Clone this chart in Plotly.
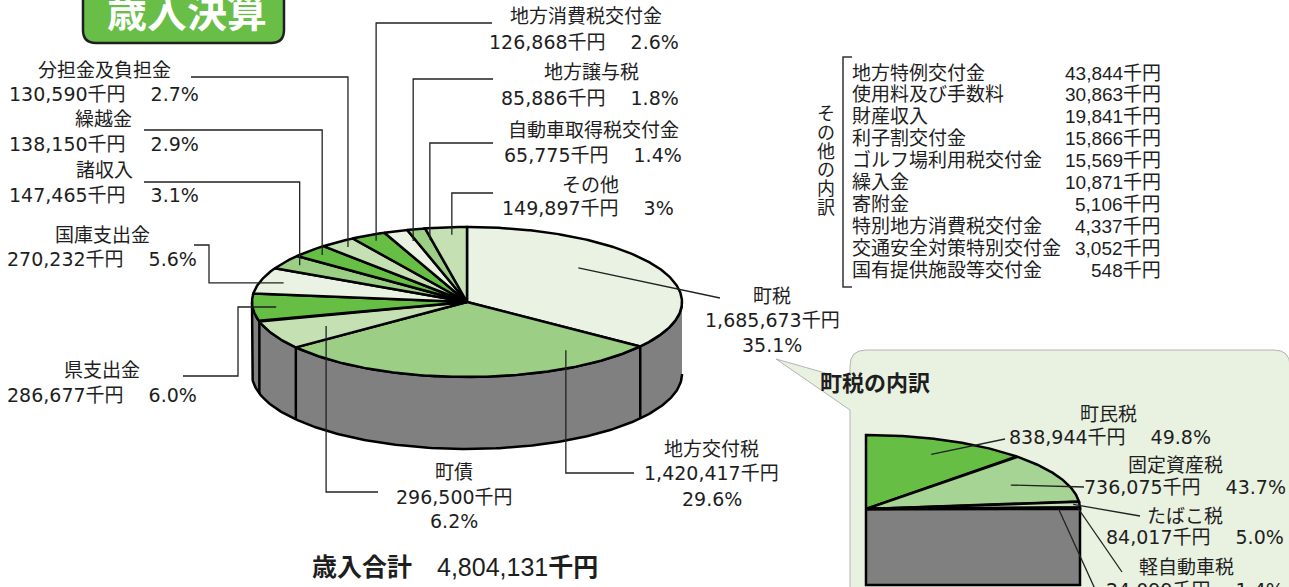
import numpy as np
import plotly.graph_objects as go

# ---------------- data ----------------
revenue_names = ["町税", "地方交付税", "町債", "県支出金", "国庫支出金", "諸収入", "繰越金",
                 "分担金及負担金", "地方消費税交付金", "地方譲与税", "自動車取得税交付金", "その他"]
revenue_values = [1685673, 1420417, 296500, 286677, 270232, 147465, 138150,
                  130590, 126868, 85886, 65775, 149897]
revenue_pct_labels = ["35.1%", "29.6%", "6.2%", "6.0%", "5.6%", "3.1%", "2.9%",
                      "2.7%", "2.6%", "1.8%", "1.4%", "3%"]
revenue_total = 4804131

town_tax_names = ["町民税", "固定資産税", "たばこ税", "軽自動車税"]
town_tax_values = [838944, 736075, 84017, 24099]
town_tax_pct_labels = ["49.8%", "43.7%", "5.0%", "1.4%"]
town_tax_total = 1685673

other_names = ["地方特例交付金", "使用料及び手数料", "財産収入", "利子割交付金", "ゴルフ場利用税交付金",
               "繰入金", "寄附金", "特別地方消費税交付金", "交通安全対策特別交付金", "国有提供施設等交付金"]
other_values = [43844, 30863, 19841, 15866, 15569, 10871, 5106, 4337, 3052, 548]

# ---------------- styles / layout ----------------
W, M, L, B = "#EAF3E3", "#9CCF85", "#C5E1B4", "#67BE45"
main_colors = [W, M, L, B, W, M, B, L, B, W, M, L]
sub_colors = [B, "#A6D494", "#C6E2B5", "#D6EACA", "#E6F2DE"]
FONT = "Liberation Sans, Noto Sans CJK JP, sans-serif"
LFONT = "DejaVu Sans, Noto Sans CJK JP, sans-serif"
TXT = "#1e1e1e"
FS = 19

CX, CY, RX, RY, DEPTH = 467, 302, 215, 75, 72          # main pie geometry
SCX, SCY, SRX, SRY, SDEPTH = 866, 509, 214, 74, 76     # sub pie geometry

fig = go.Figure()


def ell(cx, cy, rx, ry, theta_deg, r=1.0):
    t = np.radians(theta_deg)
    return cx + rx * r * np.sin(t), cy - ry * r * np.cos(t)


def poly(xs, ys, fill, lw=2.5, lc="black"):
    fig.add_trace(go.Scatter(x=list(xs), y=list(ys), mode="lines", fill="toself",
                             fillcolor=fill, line=dict(color=lc, width=lw),
                             hoverinfo="skip"))


def line(xs, ys, lw=1.3, lc="#222222"):
    fig.add_trace(go.Scatter(x=list(xs), y=list(ys), mode="lines",
                             line=dict(color=lc, width=lw), hoverinfo="skip"))


def text(x, y, s, size=FS, anchor="center", bold=False, color=TXT, family=LFONT, yanchor="middle"):
    if bold:
        s = "<b>" + s + "</b>"
    fig.add_annotation(x=x, y=y, xref="x", yref="y", text=s, showarrow=False,
                       xanchor=anchor, yanchor=yanchor,
                       font=dict(family=family, size=size, color=color))


# ---------------- background shapes ----------------
# title box (top is clipped by the page)
fig.add_shape(type="path", xref="x", yref="y", layer="below",
              path="M 83,-20 L 83,30 Q 83,43 96,43 L 271,43 Q 284,43 284,30 L 284,-20 Z",
              fillcolor="#69BE47", line=dict(color="#1f1f1f", width=2.5))
# callout box for 町税の内訳
fig.add_shape(type="path", xref="x", yref="y", layer="below",
              path=("M 866,350 L 1274,350 Q 1290,350 1290,366 L 1290,620 L 850,620 "
                    "L 850,410 L 776,359 L 850,380 L 850,366 Q 850,350 866,350 Z"),
              fillcolor="#E9F1E1", line=dict(color="#B4B4B4", width=1))

# ---------------- main 3D pie ----------------
vals = np.array(revenue_values, dtype=float)
cum = np.concatenate([[0], np.cumsum(vals)]) / vals.sum() * 360.0
starts, ends = cum[:-1], cum[1:]

# side wall (front half)
th = np.linspace(90, 270, 200)
tx, ty = ell(CX, CY, RX, RY, th)
poly(np.concatenate([tx, tx[::-1]]), np.concatenate([ty, ty[::-1] + DEPTH]), "#808080")
for b in cum[1:-1]:
    if 90 < b < 270:
        bx, by = ell(CX, CY, RX, RY, b)
        line([bx, bx], [by, by + DEPTH], lw=2.5, lc="black")

# top face
for i in range(len(vals)):
    th = np.linspace(starts[i], ends[i], max(4, int((ends[i] - starts[i]) * 2)))
    ax_, ay_ = ell(CX, CY, RX, RY, th)
    poly(np.concatenate([[CX], ax_, [CX]]), np.concatenate([[CY], ay_, [CY]]), main_colors[i])

# labels: (anchor fraction within slice, anchor radius, leader waypoints, text lines)
main_label_layout = [
    dict(f=0.385, r=0.69, path=[("pt", 720, 298)], lines=[(772, 296), (772, 320), (772, 345)], split=3),
    dict(f=0.17, r=0.79, path=[("v", 473), ("pt", 634, 473)], lines=[(711, 449), (711, 473), (712, 499)], split=3),
    dict(f=0.5, r=0.73, path=[("v", 492), ("pt", 378, 492)], lines=[(454, 472), (454, 497), (454, 521)], split=3),
    dict(f=0.5, r=0.89, path=[("h", 238), ("pt", 238, 376), ("pt", 183, 376)], lines=[(102, 370), (102, 395)], split=2),
    dict(f=0.5, r=0.89, path=[("h", 209), ("pt", 209, 245), ("pt", 194, 245)], lines=[(102, 235), (102, 259)], split=2),
    dict(f=0.5, r=0.92, path=[("v", 182), ("pt", 144, 182)], lines=[(104, 170), (104, 195)], split=2),
    dict(f=0.5, r=0.92, path=[("v", 130), ("pt", 144, 130)], lines=[(103, 119), (104, 144)], split=2),
    dict(f=0.5, r=0.92, path=[("v", 77), ("pt", 191, 77)], lines=[(104, 70), (104, 94)], split=2),
    dict(f=0.5, r=0.92, path=[("v", 23), ("pt", 492, 23)], lines=[(586, 16), (584, 42)], split=2),
    dict(f=0.85, r=0.85, path=[("v", 79), ("pt", 493, 79)], lines=[(591, 72), (590, 98)], split=2),
    dict(f=0.9, r=0.85, path=[("v", 143), ("pt", 493, 143)], lines=[(593, 130), (593, 155)], split=2),
    dict(f=0.6, r=0.9, path=[("v", 193), ("pt", 493, 193)], lines=[(590, 185), (588, 208)], split=2),
]

for i, lay in enumerate(main_label_layout):
    th = starts[i] + lay["f"] * (ends[i] - starts[i])
    ax_, ay_ = ell(CX, CY, RX, RY, th, lay["r"])
    xs, ys = [ax_], [ay_]
    for seg in lay["path"]:
        if seg[0] == "v":
            xs.append(ax_); ys.append(seg[1])
        elif seg[0] == "h":
            xs.append(seg[1]); ys.append(ay_)
        else:
            xs.append(seg[1]); ys.append(seg[2])
    line(xs, ys)
    amount = f"{revenue_values[i]:,}千円"
    if lay["split"] == 3:
        strs = [revenue_names[i], amount, revenue_pct_labels[i]]
    else:
        strs = [revenue_names[i], amount + "　 " + revenue_pct_labels[i]]
    for (lx, ly), s in zip(lay["lines"], strs):
        text(lx, ly, s)

# title and total
text(187, 13, "歳入決算", size=40, bold=True, color="white", family=FONT)
fig.add_annotation(x=310, y=567, xref="x", yref="y", showarrow=False, xanchor="left",
                   yanchor="middle",
                   text=f"<b>歳入合計</b>　{revenue_total:,}<b>千円</b>",
                   font=dict(family=FONT, size=25, color=TXT))

# ---------------- その他の内訳 list ----------------
for k, ch in enumerate("その他の内訳"):
    text(826, 114 + k * 18.8, ch, size=18, family=FONT)
line([852, 843, 843, 852], [57, 57, 287, 287], lw=1.5, lc="#333333")
for k, (n, v) in enumerate(zip(other_names, other_values)):
    y = 73 + k * 21.9
    text(850, y, n, anchor="left", family=FONT)
    text(1163, y, f"{v:,}千円", anchor="right", family=FONT)

# ---------------- 町税の内訳 sub pie ----------------
text(875, 383, "町税の内訳", size=22, bold=True, family=FONT)
svals = list(town_tax_values) + [town_tax_total - sum(town_tax_values)]
svals = np.array(svals, dtype=float)
scum = np.concatenate([[0], np.cumsum(svals)]) / svals.sum() * 90.0  # quarter view
sst, sen = scum[:-1], scum[1:]

# side (gray block below the visible quarter)
poly([SCX, SCX + SRX, SCX + SRX, SCX, SCX], [SCY, SCY, SCY + SDEPTH, SCY + SDEPTH, SCY], "#808080")
for i in range(len(svals)):
    th = np.linspace(sst[i], sen[i], max(4, int((sen[i] - sst[i]) * 3)))
    ax_, ay_ = ell(SCX, SCY, SRX, SRY, th)
    poly(np.concatenate([[SCX], ax_, [SCX]]), np.concatenate([[SCY], ay_, [SCY]]), sub_colors[i])

sub_label_layout = [
    dict(f=0.5, r=0.8, end=(1005, 439), lines=[(1108, 414), (1110, 437)]),
    dict(f=0.5, r=0.75, end=(1084, 487), lines=[(1175, 465), (1185, 487)]),
    dict(f=0.5, r=0.97, end=(1140, 516), lines=[(1185, 516), (1195, 537)]),
    dict(f=0.5, r=0.99, end=(1122, 572), lines=[(1186, 567), (1195, 577)]),
    dict(f=0.5, r=0.9, end=(1100, 600), lines=[]),
]
for i, lay in enumerate(sub_label_layout):
    th = sst[i] + lay["f"] * (sen[i] - sst[i])
    ax_, ay_ = ell(SCX, SCY, SRX, SRY, th, lay["r"])
    line([ax_, lay["end"][0]], [ay_, lay["end"][1]])
    if i >= len(town_tax_names):
        continue
    strs = [town_tax_names[i], f"{town_tax_values[i]:,}千円" + "　 " + town_tax_pct_labels[i]]
    for j, ((lx, ly), s) in enumerate(zip(lay["lines"], strs)):
        if i == 3 and j == 1:
            text(lx, ly, s, yanchor="top")   # second line runs off the bottom edge
        else:
            text(lx, ly, s)

fig.update_layout(
    width=1289, height=587, autosize=False, showlegend=False,
    margin=dict(l=0, r=0, t=0, b=0),
    paper_bgcolor="white", plot_bgcolor="white",
    xaxis=dict(range=[0, 1289], visible=False, fixedrange=True),
    yaxis=dict(range=[587, 0], visible=False, fixedrange=True),
)
fig.write_html("out.html")
